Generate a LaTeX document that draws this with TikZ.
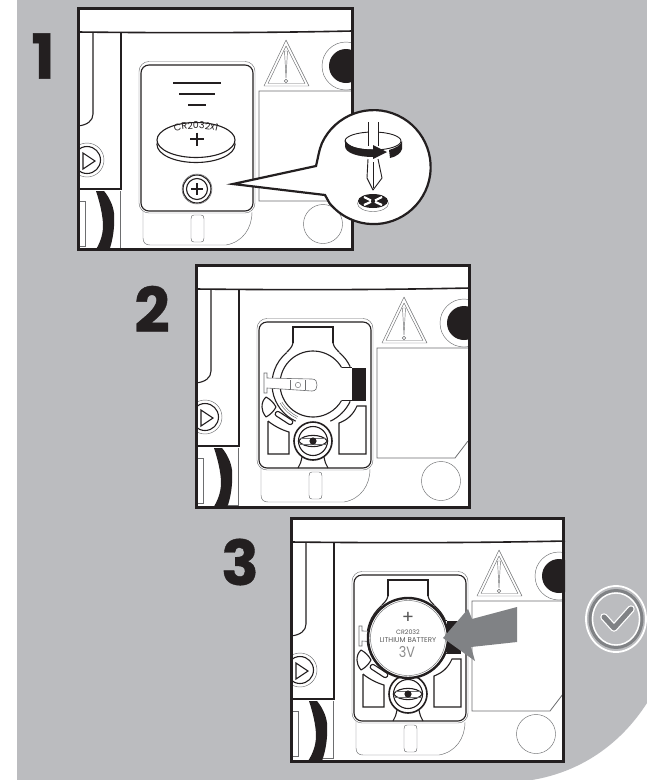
\documentclass[tikz,border=0pt]{standalone}
\usepackage{fontspec}
\setmainfont{Poppins}
\newfontfamily\numfont[FakeBold=0.6]{Poppins}
\usetikzlibrary{decorations.text}
\definecolor{bg}{HTML}{BBBCBF}
\definecolor{ink}{HTML}{231F20}
\definecolor{thin}{HTML}{6D6E70}
\definecolor{arrowgrey}{HTML}{808285}
\tikzset{
  frame/.style={draw=ink,line width=3pt},
  ink1/.style={draw=ink,line width=1.1pt},
  ink2/.style={draw=ink,line width=1.6pt},
  faint/.style={draw=thin,line width=0.45pt},
  stepnum/.style={font=\numfont\fontsize{62}{62}\selectfont\bfseries,text=ink,inner sep=0pt},
  battext/.style={text=black!65,inner sep=0pt}
}
\newcommand{\panelbase}{%
  \fill[white] (0,0) rectangle (274,242);
  \begin{scope}
    \clip (0,0) rectangle (274,242);
    \draw[ink2] (0,24) .. controls (90,25) and (180,25) .. (274,23);
    \draw[ink1] (43,24) -- (43,181) -- (0,181);
    \draw[ink1] (15,24) -- (15,106) .. controls (15,113) and (9,117) .. (0,118);
    \draw[faint] (9,152) circle[radius=17];
    \draw[ink1] (9,152) circle[radius=13.5];
    \draw[ink1] (5,145) -- (17,153) -- (5,161) -- cycle;
    \fill[ink] (18,183) .. controls (22,195) and (25,208) .. (25,218) .. controls (25,228) and (21,237) .. (17,243)
      -- (31,243) .. controls (35,232) and (37,218) .. (36,205) .. controls (35,197) and (31,189) .. (26,183) -- cycle;
    \draw[draw=thin,line width=0.7pt] (0,193) -- (7,193) -- (7,238) -- (0,238);
    \draw[faint] (42,183) -- (42,240) -- (32,240);
    \draw[faint,line join=round] (208,32) -- (186,78) -- (231,78) -- cycle;
    \draw[faint,line join=round] (208,38) -- (190,75.5) -- (227,75.5) -- cycle;
    \draw[faint] (206.5,43) -- (208,70) -- (209.5,43) -- cycle;
    \draw[faint] (208,73) circle[radius=1.7];
    \draw[faint] (268,58) circle[radius=24];
    \fill[ink] (268,58) circle[radius=17];
    \draw[draw=thin,line width=0.8pt] (274,83) -- (181,83) -- (181,193) -- (259,193) -- (272,176);
    \draw[faint] (245,216) circle[radius=19.5];
    \draw[faint] (65,203) -- (65,230) .. controls (65,235) and (68,237) .. (72,237) -- (148,237) .. controls (165,234) and (174,220) .. (174,204);
    \draw[faint] (113,211) .. controls (113,208) and (114,207) .. (116,207) -- (123,207) .. controls (125,207) and (126,208) .. (126,211) -- (126,230) .. controls (126,233) and (125,234) .. (123,234) -- (116,234) .. controls (114,234) and (113,233) .. (113,230) -- cycle;
    \draw[faint,rounded corners=10pt] (61,53.5) rectangle (177,205);
    \draw[ink1,rounded corners=8pt,fill=white] (63,57) rectangle (175,203);
  \end{scope}
}
\newcommand{\holder}{%
  \draw[ink1] (97,78) -- (97,62) -- (137,62) -- (137,78);
  \draw[ink1] (97,78) .. controls (96,82) and (94,84) .. (91,87);
  \draw[ink1] (137,78) .. controls (138,82) and (140,84) .. (143,87);
  \draw[ink1] (117,119) ++(230:41) arc[start angle=230,end angle=115,radius=41];
  \draw[ink1] (117,119) ++(310:41) arc[start angle=310,end angle=335,radius=41];
  \draw[ink1] (117,119) ++(25:41) arc[start angle=25,end angle=65,radius=41];
  \draw[ink1] (156,102.5) -- (145.6,102.5);
  \draw[ink1] (117,119) ++(330:33) arc[start angle=330,end angle=30,radius=33];
  \draw[ink1] (145.6,135.5) -- (156,135.5);
  \fill[ink] (156,103) rectangle (170,136);
  \draw[ink1] (72,156) -- (72,189) -- (93,189) -- (93,167) .. controls (86,165) and (78,161) .. (72,156);
  \draw[ink1] (143,189) -- (170,189) -- (170,141) -- (161,141) .. controls (157,150) and (151,155) .. (143,158) -- cycle;
  \draw[ink1,fill=white,line join=round] (70,132) .. controls (74,134) and (78,138) .. (80,142) .. controls (78,146) and (74,150) .. (70,152) .. controls (67,148) and (66,145) .. (66,142) .. controls (66,138) and (67,135) .. (70,132) -- cycle;
  \draw[ink1,fill=white,rounded corners=2.5pt,rotate around={-33:(88,153)}] (78,150.5) rectangle (98,155.5);
  \draw[draw=thin,line width=0.6pt,fill=white] (68,108) -- (71,108) -- (71,113) -- (116,114) .. controls (120,114) and (121,117) .. (121,120) .. controls (121,123) and (120,126) .. (116,126) -- (71,123) -- (71,128) -- (68,128) -- cycle;
  \draw[faint] (102,120) circle[radius=2.7];
  \draw[faint] (94,115) -- (94,124.5);
  \draw[faint] (109,115) -- (109,125);
  \draw[faint] (117,119) ++(150:38) arc[start angle=150,end angle=115,radius=38];
  \draw[faint] (117,119) ++(150:36) arc[start angle=150,end angle=115,radius=36];
  \draw[ink2,fill=white] (117,176) circle[radius=19];
  \draw[ink1] (117,176) circle[radius=14.5];
  \draw[ink1] (102.5,176) .. controls (108,168.5) and (126,168.5) .. (131.5,176) .. controls (126,183.5) and (108,183.5) .. cycle;
  \draw[faint] (104,173) -- (130,173);
  \draw[faint] (104,179) -- (130,179);
  \fill[ink] (117,176) circle[radius=3.6];
  \draw[ink1] (106,192) .. controls (105,197) and (104,200) .. (102,203);
  \draw[ink1] (128,192) .. controls (129,197) and (130,200) .. (132,203);
}
\begin{document}
\begin{tikzpicture}[x=1pt,y=-1pt]
\useasboundingbox (0,0) rectangle (647,780);
\fill[white] (0,0) rectangle (647,780);
\fill[bg] (17,0) -- (647,0) -- (647,703) .. controls (620,745) and (580,772) .. (532,780) -- (17,780) -- cycle;

\node[stepnum] (numa) at (43,56) {1};
\node[stepnum] (numb) at (152,309) {2};
\node[stepnum] (numc) at (240,562) {3};

% Panel 1
\begin{scope}[shift={(78,8)}]
  \panelbase
  \draw[ink2] (95,75) -- (143,75);
  \draw[ink2] (101,86) -- (137,86);
  \draw[ink2] (110,97) -- (128,97);
  \draw[ink1] (118,136.5) circle[x radius=39,y radius=18];
  \draw[ink1,fill=white] (118,132) circle[x radius=39,y radius=17.5];
  \path[decorate,decoration={text along path,text align=center,text={|\fontsize{9.5}{9.5}\selectfont\color{ink}|CR2032x1}}]
    (92,125) .. controls (105,119.5) and (131,119.5) .. (144,125);
  \draw[ink,line width=2pt] (112,131) -- (126,131) (119,124.5) -- (119,137.5);
  \draw[faint] (119,181) circle[radius=15];
  \draw[ink1] (119,181) circle[radius=14];
  \draw[ink1] (119,181) circle[radius=10.5];
  \draw[ink1] (113,181) -- (125,181) (119,175) -- (119,187);
  \draw[frame] (0,0) rectangle (274,241);
\end{scope}

% Panel 1 callout
\draw[ink2,line width=2.2pt,fill=white,line join=miter] (233,184) -- (316,166) .. controls (318,158) and (319,150) .. (322,143)
  arc[start angle=205,end angle=500.7,radius=57] .. controls (328,201) and (327,198) .. (325,195) -- cycle;
\draw[ink1,line width=0.9pt] (373,132) ++(0,9) circle[x radius=28,y radius=9];
\draw[ink1,line width=0.9pt] (345,141) -- (345,146);
\fill[white] (368,122) rectangle (378,146);
\draw[ink1,line width=0.9pt] (368,122) -- (368,146) (378,122) -- (378,146);
\fill[ink] (345,139) .. controls (347,147) and (360,149.5) .. (373,149.5) -- (373,145) -- (387,152) -- (373,159) -- (373,157) .. controls (358,157) and (345,153) .. (345,146) -- cycle;
\fill[ink] (389,150) .. controls (396,148) and (401,145) .. (402,141) -- (402,149) .. controls (401,153) and (396,157) .. (390,158) -- cycle;
\draw[ink1,line width=0.9pt,fill=white,line join=round] (368,159) -- (367,178) -- (373,190) -- (382,178) -- (378,159);
\draw[ink1,line width=0.6pt] (373,162) -- (373,188);
\draw[faint] (373,203.5) circle[x radius=15.5,y radius=8];
\fill[ink] (373,201) circle[x radius=15,y radius=7];
\draw[white,line width=2.2pt] (364,197) -- (371,200.5) (382,197) -- (375,200.5) (364,205) -- (371,201.8) (382,205) -- (375,201.8);

% Panel 2
\begin{scope}[shift={(196,265)}]
  \panelbase
  \holder
  \draw[frame] (0,0) rectangle (273,242);
\end{scope}

% Panel 3
\begin{scope}[shift={(291,518)}]
  \panelbase
  \holder
  \draw[ink,line width=2.4pt,fill=white] (117,120) circle[radius=40];
  \draw[faint] (117,120) circle[radius=37.5];
  \node[battext] (batplus) at (117,100) {\fontsize{18}{18}\selectfont +};
  \node[battext] (batmodel) at (117,114) {\fontsize{6.3}{6.3}\selectfont CR2032};
  \node[battext] (batname) at (117,122) {\fontsize{7}{7}\selectfont LITHIUM BATTERY};
  \node[battext,text=black!45,xscale=0.85] (batvolt) at (116,134) {\fontsize{15}{15}\selectfont 3V};
  \fill[arrowgrey] (152,120) -- (177,91) -- (181,101) -- (226,89) -- (226,124) -- (180,129) -- (184,143) -- cycle;
  \draw[frame] (0,0) rectangle (272,243);
\end{scope}

% Check badge
\draw[white,line width=1.8pt] (616,619) circle[x radius=30,y radius=33];
\draw[arrowgrey,line width=3pt] (616,619) circle[x radius=26,y radius=28.5];
\draw[white,line width=1.4pt] (616,619) circle[x radius=23.5,y radius=26];
\draw[white,line width=7.5pt,line cap=round,line join=round] (604,617) -- (614,628) -- (631,609);
\draw[arrowgrey,line width=5pt,line cap=round,line join=round] (604,617) -- (614,628) -- (631,609);
\end{tikzpicture}
\end{document}
